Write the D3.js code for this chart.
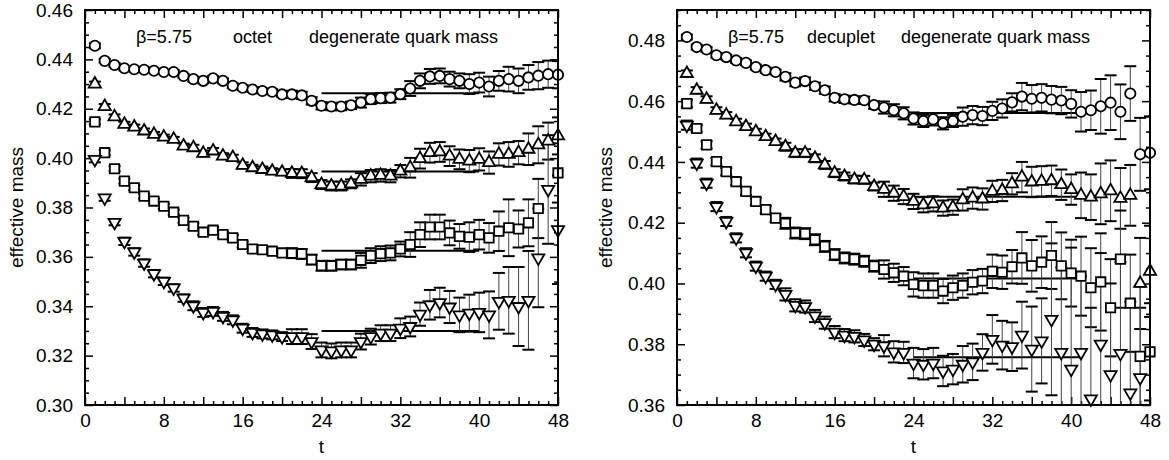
<!DOCTYPE html>
<html>
<head>
<meta charset="utf-8">
<script src="https://cdn.jsdelivr.net/npm/d3@7/dist/d3.min.js"></script>
<style>
body { margin: 0; background: #fff; }
text { font-family: "Liberation Sans", Arial, Helvetica, sans-serif; }
</style>
</head>
<body>
<div id="vis"></div>
<script>
const FRAME_WIDTH = 1169;
const FRAME_HEIGHT = 460;

// time slices
const T_VALUES = [1,2,3,4,5,6,7,8,9,10,11,12,13,14,15,16,17,18,19,20,21,22,23,24,
  25,26,27,28,29,30,31,32,33,34,35,36,37,38,39,40,41,42,43,44,45,46,47,48];
const X_TICK_LABELS = [0, 8, 16, 24, 32, 40, 48];
const OCTET_Y_TICKS = [0.30, 0.32, 0.34, 0.36, 0.38, 0.40, 0.42, 0.44, 0.46];
const DECUPLET_Y_TICKS = [0.36, 0.38, 0.40, 0.42, 0.44, 0.46, 0.48];

// octet, degenerate quark mass (four kappa values)
const OCTET_CIRCLE = [.4455,.4394,.4377,.4364,.4360,.4358,.4354,.4349,.4349,.4333,.4320,.4313,.4323,.4313,.4293,.4285,
  .4278,.4272,.4269,.4258,.4258,.4254,.4232,.4212,.4209,.4209,.4214,.4225,.4239,.4243,.4245,.4259,
  .4282,.4313,.4331,.4333,.4320,.4313,.4300,.4306,.4290,.4313,.4320,.4313,.4327,.4334,.4340,.4338];
const OCTET_CIRCLE_ERR = [.0010,.0008,.0008,.0008,.0008,.0008,.0008,.0008,.0008,.0008,.0010,.0010,.0010,.0010,.0010,.0010,
  .0010,.0010,.0010,.0010,.0015,.0015,.0015,.0015,.0015,.0015,.0015,.0020,.0020,.0020,.0020,.0020,
  .0030,.0030,.0030,.0030,.0030,.0030,.0040,.0040,.0040,.0040,.0050,.0050,.0050,.0055,.0055,.0055];
const OCTET_TRI = [.4300,.4209,.4167,.4137,.4126,.4110,.4096,.4085,.4076,.4049,.4042,.4019,.4029,.4008,.4002,.3971,
  .3961,.3954,.3947,.3943,.3938,.3937,.3921,.3893,.3887,.3887,.3896,.3914,.3927,.3930,.3927,.3947,
  .3961,.3998,.4022,.4025,.4008,.3995,.3988,.3995,.3982,.4015,.4015,.4022,.4036,.4054,.4069,.4090];
const OCTET_TRI_ERR = [.0010,.0010,.0010,.0010,.0010,.0010,.0010,.0010,.0010,.0010,.0012,.0012,.0012,.0012,.0012,.0012,
  .0012,.0012,.0012,.0012,.0018,.0018,.0018,.0018,.0018,.0018,.0018,.0025,.0025,.0025,.0025,.0025,
  .0040,.0040,.0040,.0040,.0040,.0040,.0045,.0045,.0045,.0045,.0050,.0047,.0064,.0075,.0075,.0075];
const OCTET_SQUARE = [.4147,.4022,.3957,.3907,.3880,.3846,.3826,.3805,.3781,.3748,.3724,.3700,.3708,.3690,.3677,.3650,
  .3632,.3629,.3623,.3616,.3615,.3612,.3589,.3564,.3564,.3569,.3569,.3586,.3605,.3613,.3616,.3632,
  .3650,.3690,.3721,.3721,.3697,.3683,.3680,.3690,.3677,.3704,.3718,.3713,.3738,.3796,null,.3940];
const OCTET_SQUARE_ERR = [.0010,.0010,.0010,.0010,.0010,.0010,.0010,.0010,.0010,.0010,.0012,.0012,.0012,.0012,.0012,.0012,
  .0012,.0012,.0012,.0012,.0020,.0020,.0020,.0020,.0020,.0020,.0020,.0030,.0030,.0030,.0030,.0030,
  .0050,.0050,.0050,.0050,.0050,.0050,.0060,.0060,.0060,.0080,.0115,.0075,.0095,.0120,.0120,.0120];
const OCTET_DOWN = [.3995,.3839,.3740,.3663,.3620,.3575,.3532,.3501,.3474,.3433,.3402,.3375,.3379,.3359,.3345,.3311,
  .3294,.3288,.3284,.3277,.3277,.3277,.3257,.3223,.3219,.3223,.3223,.3257,.3277,.3291,.3291,.3311,
  .3318,.3368,.3406,.3415,.3397,.3365,.3372,.3375,.3365,.3420,.3424,.3399,.3424,.3596,.3873,.3710];
const OCTET_DOWN_ERR = [.0012,.0012,.0012,.0015,.0015,.0015,.0015,.0015,.0015,.0015,.0018,.0018,.0018,.0018,.0018,.0018,
  .0018,.0018,.0018,.0018,.0030,.0030,.0030,.0030,.0030,.0030,.0030,.0032,.0032,.0032,.0032,.0040,
  .0040,.0047,.0060,.0060,.0065,.0070,.0075,.0080,.0095,.0115,.0135,.0160,.0200,.0200,.0220,.0220];
const OCTET_FIT = [0.4263, 0.3946, 0.3625, 0.3300];
const OCTET_FIT_RANGE = [24, 40];

// decuplet, degenerate quark mass
const DECUPLET_CIRCLE = [.4811,.4778,.4770,.4751,.4745,.4734,.4726,.4712,.4702,.4696,.4680,.4661,.4666,.4649,.4636,.4611,
  .4606,.4604,.4603,.4587,.4579,.4570,.4560,.4543,.4535,.4540,.4527,.4535,.4549,.4554,.4551,.4568,
  .4576,.4596,.4615,.4608,.4611,.4605,.4602,.4591,.4565,.4570,.4583,.4595,.4565,.4625,.4425,.4430];
const DECUPLET_CIRCLE_ERR = [.0008,.0008,.0008,.0008,.0008,.0008,.0008,.0008,.0008,.0008,.0012,.0012,.0012,.0012,.0012,.0012,
  .0012,.0012,.0012,.0012,.0020,.0020,.0020,.0020,.0020,.0020,.0020,.0020,.0030,.0030,.0030,.0030,
  .0030,.0030,.0045,.0045,.0045,.0045,.0045,.0045,.0065,.0065,.0090,.0090,.0090,.0090,.0120,.0120];
const DECUPLET_TRI = [.4691,.4636,.4606,.4570,.4554,.4532,.4516,.4499,.4483,.4467,.4450,.4429,.4429,.4412,.4390,.4363,
  .4352,.4342,.4341,.4319,.4310,.4297,.4286,.4270,.4259,.4262,.4248,.4251,.4275,.4281,.4278,.4303,
  .4306,.4328,.4350,.4334,.4336,.4338,.4325,.4309,.4290,.4284,.4295,.4305,.4280,.4290,.4000,.4040];
const DECUPLET_TRI_ERR = [.0010,.0010,.0010,.0010,.0010,.0010,.0010,.0010,.0010,.0010,.0013,.0013,.0013,.0013,.0013,.0013,
  .0013,.0013,.0013,.0013,.0025,.0025,.0025,.0025,.0025,.0025,.0025,.0025,.0035,.0035,.0035,.0035,
  .0035,.0035,.0050,.0050,.0050,.0050,.0050,.0050,.0075,.0075,.0100,.0100,.0100,.0100,.0150,.0150];
const DECUPLET_SQUARE = [.4592,.4510,.4456,.4401,.4368,.4335,.4303,.4270,.4243,.4215,.4198,.4166,.4164,.4144,.4122,.4095,
  .4084,.4080,.4073,.4057,.4046,.4035,.4024,.3997,.3993,.3993,.3975,.3986,.3993,.4004,.4008,.4040,
  .4037,.4055,.4084,.4058,.4070,.4092,.4058,.4034,.4024,.3986,.4005,.3920,.4080,.3935,.3760,.3775];
const DECUPLET_SQUARE_ERR = [.0012,.0012,.0012,.0012,.0012,.0012,.0012,.0012,.0012,.0012,.0018,.0018,.0018,.0018,.0018,.0018,
  .0018,.0018,.0018,.0018,.0030,.0030,.0030,.0040,.0040,.0040,.0040,.0040,.0040,.0040,.0040,.0055,
  .0055,.0055,.0085,.0085,.0085,.0110,.0110,.0110,.0130,.0130,.0160,.0160,.0160,.0160,.0160,.0160];
const DECUPLET_DOWN = [.4521,.4396,.4330,.4253,.4204,.4150,.4101,.4057,.4024,.3997,.3964,.3928,.3924,.3893,.3871,.3840,
  .3830,.3826,.3814,.3800,.3795,.3775,.3773,.3738,.3734,.3738,.3712,.3718,.3734,.3742,.3773,.3816,
  .3797,.3792,.3830,.3784,.3811,.3882,.3773,.3718,.3773,.3620,.3800,.3700,.3770,.3640,.3690,null];
const DECUPLET_DOWN_ERR = [.0015,.0015,.0015,.0015,.0015,.0015,.0015,.0015,.0015,.0015,.0020,.0020,.0020,.0020,.0020,.0020,
  .0020,.0020,.0020,.0020,.0035,.0035,.0035,.0050,.0050,.0050,.0050,.0050,.0060,.0060,.0060,.0080,
  .0080,.0080,.0110,.0140,.0140,.0250,.0280,.0400,.0250,.0300,.0300,.0300,.0300,.0300,.0300,.0300];
const DECUPLET_FIT = [0.4561, 0.4285, 0.4016, 0.3757];
const DECUPLET_FIT_RANGE = [24, 41];

const SVG = d3.select("#vis")
  .append("svg")
  .attr("width", FRAME_WIDTH)
  .attr("height", FRAME_HEIGHT)
  .style("background", "#fff");

const TOP = 10;
const BOTTOM = 405;
const FONT_SIZE = 19;

const SYMBOLS = {
  circle: { type: d3.symbolCircle, size: 84, rotate: 0 },
  up: { type: d3.symbolTriangle, size: 64, rotate: 0 },
  square: { type: d3.symbolSquare, size: 88, rotate: 0 },
  down: { type: d3.symbolTriangle, size: 64, rotate: 180 }
};

const PANELS = [
  {
    id: "octet", left: 85, right: 558, domain: [0.30, 0.46], yTicks: OCTET_Y_TICKS,
    name: "octet", nameOffset: 148, labelX: 16,
    fit: OCTET_FIT, fitRange: OCTET_FIT_RANGE,
    series: [
      { sym: "circle", values: OCTET_CIRCLE, errors: OCTET_CIRCLE_ERR },
      { sym: "up", values: OCTET_TRI, errors: OCTET_TRI_ERR },
      { sym: "square", values: OCTET_SQUARE, errors: OCTET_SQUARE_ERR },
      { sym: "down", values: OCTET_DOWN, errors: OCTET_DOWN_ERR }
    ]
  },
  {
    id: "decuplet", left: 677, right: 1150, domain: [0.36, 0.49], yTicks: DECUPLET_Y_TICKS,
    name: "decuplet", nameOffset: 130, labelX: 605,
    fit: DECUPLET_FIT, fitRange: DECUPLET_FIT_RANGE,
    series: [
      { sym: "circle", values: DECUPLET_CIRCLE, errors: DECUPLET_CIRCLE_ERR },
      { sym: "up", values: DECUPLET_TRI, errors: DECUPLET_TRI_ERR },
      { sym: "square", values: DECUPLET_SQUARE, errors: DECUPLET_SQUARE_ERR },
      { sym: "down", values: DECUPLET_DOWN, errors: DECUPLET_DOWN_ERR }
    ]
  }
];

const build_panel = (p) => {

  const X_SCALE = d3.scaleLinear().domain([0, 48]).range([p.left, p.right]);
  const Y_SCALE = d3.scaleLinear().domain(p.domain).range([BOTTOM, TOP]);
  const W = p.right - p.left;
  const H = BOTTOM - TOP;

  const G = SVG.append("g");

  G.append("clipPath").attr("id", "clip-" + p.id)
    .append("rect")
    .attr("x", p.left).attr("y", TOP)
    .attr("width", W).attr("height", H);

  // ticks: minor every 1 in t, longer every 4, labels every 8
  const minorX = d3.range(0, 49).filter((d) => d % 4 !== 0);
  const medX = d3.range(0, 49, 4);
  const [y0, y1] = p.domain;
  const minorY = d3.range(Math.round(y0 * 1000), Math.round(y1 * 1000) + 1, 5)
    .map((d) => d / 1000)
    .filter((d) => !p.yTicks.some((m) => Math.abs(m - d) < 1e-6));

  const tickAxis = (axisFn, scale, values, size, pos) => {
    G.append("g")
      .attr("transform", pos)
      .call(axisFn(scale).tickValues(values).tickSize(size).tickFormat(""))
      .call((g) => g.select(".domain").remove())
      .call((g) => g.selectAll("line").attr("stroke", "#000").attr("stroke-width", 1.5));
  };

  tickAxis(d3.axisBottom, X_SCALE, minorX, -4, `translate(0, ${BOTTOM})`);
  tickAxis(d3.axisBottom, X_SCALE, medX, -8, `translate(0, ${BOTTOM})`);
  tickAxis(d3.axisTop, X_SCALE, minorX, -4, `translate(0, ${TOP})`);
  tickAxis(d3.axisTop, X_SCALE, medX, -8, `translate(0, ${TOP})`);
  tickAxis(d3.axisLeft, Y_SCALE, minorY, -4, `translate(${p.left}, 0)`);
  tickAxis(d3.axisLeft, Y_SCALE, p.yTicks, -8, `translate(${p.left}, 0)`);
  tickAxis(d3.axisRight, Y_SCALE, minorY, -4, `translate(${p.right}, 0)`);
  tickAxis(d3.axisRight, Y_SCALE, p.yTicks, -8, `translate(${p.right}, 0)`);

  // tick labels
  G.append("g")
    .attr("transform", `translate(0, ${BOTTOM})`)
    .call(d3.axisBottom(X_SCALE).tickValues(X_TICK_LABELS).tickSize(0).tickPadding(9).tickFormat(d3.format("d")))
    .call((g) => g.select(".domain").remove())
    .call((g) => g.selectAll("text").attr("font-size", FONT_SIZE).attr("fill", "#000")
      .attr("font-family", "Liberation Sans, Arial, sans-serif"));

  G.append("g")
    .attr("transform", `translate(${p.left}, 0)`)
    .call(d3.axisLeft(Y_SCALE).tickValues(p.yTicks).tickSize(0).tickPadding(12).tickFormat(d3.format(".2f")))
    .call((g) => g.select(".domain").remove())
    .call((g) => g.selectAll("text").attr("font-size", FONT_SIZE).attr("fill", "#000")
      .attr("font-family", "Liberation Sans, Arial, sans-serif"));

  // axis titles
  G.append("text")
    .attr("x", (p.left + p.right) / 2)
    .attr("y", 453)
    .attr("text-anchor", "middle")
    .attr("font-size", FONT_SIZE)
    .text("t");

  G.append("text")
    .attr("transform", `translate(${p.labelX + 7}, ${(TOP + BOTTOM) / 2}) rotate(-90)`)
    .attr("text-anchor", "middle")
    .attr("font-size", FONT_SIZE)
    .text("effective mass");

  // annotation
  const ANN_Y = 43;
  G.append("text").attr("x", p.left + 51).attr("y", ANN_Y).attr("font-size", 18).text("β=5.75");
  G.append("text").attr("x", p.left + p.nameOffset).attr("y", ANN_Y).attr("font-size", 18).text(p.name);
  G.append("text").attr("x", p.left + 224).attr("y", ANN_Y).attr("font-size", 18).text("degenerate quark mass");

  const PLOT = G.append("g").attr("clip-path", `url(#clip-${p.id})`);

  // fit lines
  PLOT.selectAll(".fit")
    .data(p.fit)
    .enter()
    .append("line")
    .attr("x1", X_SCALE(p.fitRange[0]))
    .attr("x2", X_SCALE(p.fitRange[1]))
    .attr("y1", (d) => Y_SCALE(d))
    .attr("y2", (d) => Y_SCALE(d))
    .attr("stroke", "#000")
    .attr("stroke-width", 2);

  p.series.forEach((s) => {
    const pts = T_VALUES.map((t, i) => ({ t: t, v: s.values[i], e: s.errors[i] }))
      .filter((d) => d.v !== null);

    const bars = PLOT.append("g");
    bars.selectAll(".bar")
      .data(pts)
      .enter()
      .append("line")
      .attr("x1", (d) => X_SCALE(d.t))
      .attr("x2", (d) => X_SCALE(d.t))
      .attr("y1", (d) => Y_SCALE(d.v - d.e))
      .attr("y2", (d) => Y_SCALE(d.v + d.e))
      .attr("stroke", "#444")
      .attr("stroke-width", 1);

    [-1, 1].forEach((sgn) => {
      bars.selectAll(".cap" + sgn)
        .data(pts)
        .enter()
        .append("line")
        .attr("x1", (d) => X_SCALE(d.t) - 6)
        .attr("x2", (d) => X_SCALE(d.t) + 6)
        .attr("y1", (d) => Y_SCALE(d.v + sgn * d.e))
        .attr("y2", (d) => Y_SCALE(d.v + sgn * d.e))
        .attr("stroke", "#000")
        .attr("stroke-width", 2);
    });

    const sym = SYMBOLS[s.sym];
    G.append("g").selectAll(".pt")
      .data(pts.filter((d) => d.v >= p.domain[0] && d.v <= p.domain[1]))
      .enter()
      .append("path")
      .attr("d", d3.symbol().type(sym.type).size(sym.size))
      .attr("transform", (d) => `translate(${X_SCALE(d.t)}, ${Y_SCALE(d.v)}) rotate(${sym.rotate})`)
      .attr("fill", "#fff")
      .attr("stroke", "#000")
      .attr("stroke-width", 1.8);
  });

  // frame
  G.append("rect")
    .attr("x", p.left).attr("y", TOP)
    .attr("width", W).attr("height", H)
    .attr("fill", "none")
    .attr("stroke", "#000")
    .attr("stroke-width", 2);
};

PANELS.forEach(build_panel);
</script>
</body>
</html>
